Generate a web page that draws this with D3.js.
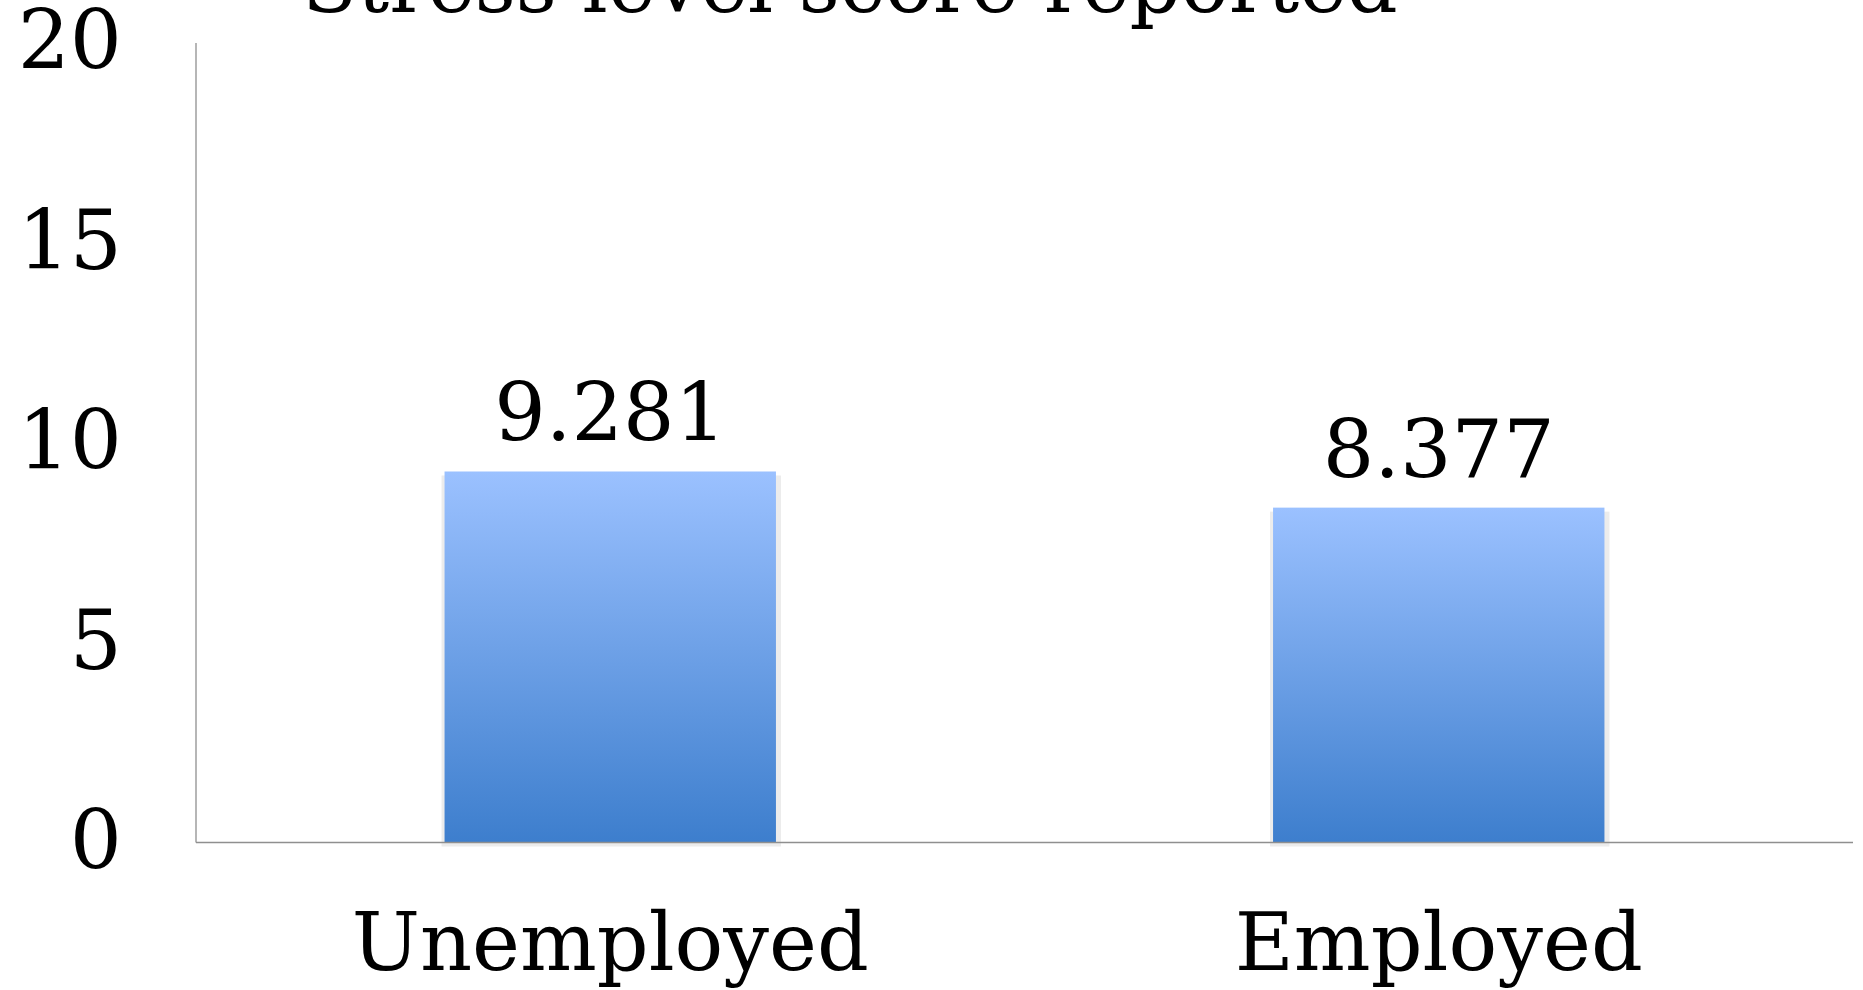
<!DOCTYPE html>
<html>
<head>
<meta charset="utf-8">
<script src="https://cdn.jsdelivr.net/npm/d3@7"></script>
<style>
  body { margin: 0; background: #fff; }
  text { font-family: "DejaVu Serif", "Liberation Serif", serif; fill: #000; }
</style>
</head>
<body>
<div id="chart"></div>
<script>
var categories = ["Unemployed", "Employed"];
var values = [9.281, 8.377];
var yTicks = [0, 5, 10, 15, 20];
var title = "Stress level score reported";

var width = 1863, height = 990;
// note: "top" is taken by window.top, so use other names
var plotLeft = 196, plotRight = 1853, plotTop = 43, plotBottom = 842.5;

var svg = d3.select("#chart")
            .append("svg")
            .attr("width", width)
            .attr("height", height);

var defs = svg.append("defs");
var grad = defs.append("linearGradient")
               .attr("id", "barFill")
               .attr("x1", 0).attr("y1", 0)
               .attr("x2", 0).attr("y2", 1);
grad.append("stop").attr("offset", "0%").attr("stop-color", "#9bc1ff");
grad.append("stop").attr("offset", "100%").attr("stop-color", "#3d7ecd");

var x = d3.scaleBand()
          .domain(categories)
          .range([plotLeft, plotRight])
          .paddingInner(0.6)
          .paddingOuter(0.3);

var y = d3.scaleLinear()
          .domain([0, 20])
          .range([plotBottom, plotTop]);

var data = categories.map(function(c, i){
  return {name: c, value: values[i]};
});

// bar shadows
svg.selectAll("rect.shadow")
   .data(data)
   .enter()
   .append("rect")
   .attr("class", "shadow")
   .attr("x", function(d){ return x(d.name) - 3; })
   .attr("y", function(d){ return y(d.value) + 4; })
   .attr("width", x.bandwidth() + 8)
   .attr("height", function(d){ return plotBottom - y(d.value); })
   .attr("fill", "#ececec");

svg.selectAll("rect.bar")
   .data(data)
   .enter()
   .append("rect")
   .attr("class", "bar")
   .attr("x", function(d){ return x(d.name); })
   .attr("y", function(d){ return y(d.value); })
   .attr("width", x.bandwidth())
   .attr("height", function(d){ return plotBottom - y(d.value); })
   .attr("fill", "url(#barFill)");

// axes lines
svg.append("line")
   .attr("x1", plotLeft).attr("x2", plotLeft)
   .attr("y1", y(20)).attr("y2", plotBottom)
   .attr("stroke", "#8f8f8f").attr("stroke-width", 1.3);
svg.append("line")
   .attr("x1", plotLeft).attr("x2", plotRight)
   .attr("y1", plotBottom).attr("y2", plotBottom)
   .attr("stroke", "#8f8f8f").attr("stroke-width", 1.3);

// y tick labels
svg.selectAll("text.ytick")
   .data(yTicks)
   .enter()
   .append("text")
   .attr("class", "ytick")
   .attr("x", 122)
   .attr("y", function(d){ return y(d); })
   .attr("dy", "0.32em")
   .attr("text-anchor", "end")
   .attr("font-size", 82)
   .text(function(d){ return d; });

// value labels
svg.selectAll("text.val")
   .data(data)
   .enter()
   .append("text")
   .attr("class", "val")
   .attr("x", function(d){ return x(d.name) + x.bandwidth() / 2; })
   .attr("y", function(d){ return y(d.value) - 31; })
   .attr("text-anchor", "middle")
   .attr("font-size", 81)
   .text(function(d){ return d.value.toFixed(3); });

// category labels
svg.selectAll("text.cat")
   .data(data)
   .enter()
   .append("text")
   .attr("class", "cat")
   .attr("x", function(d){ return x(d.name) + x.bandwidth() / 2; })
   .attr("y", 970)
   .attr("text-anchor", "middle")
   .attr("font-size", 81)
   .text(function(d){ return d.name; });

svg.append("text")
   .attr("x", 850)
   .attr("y", 12)
   .attr("text-anchor", "middle")
   .attr("font-size", 80)
   .text(title);
</script>
</body>
</html>
